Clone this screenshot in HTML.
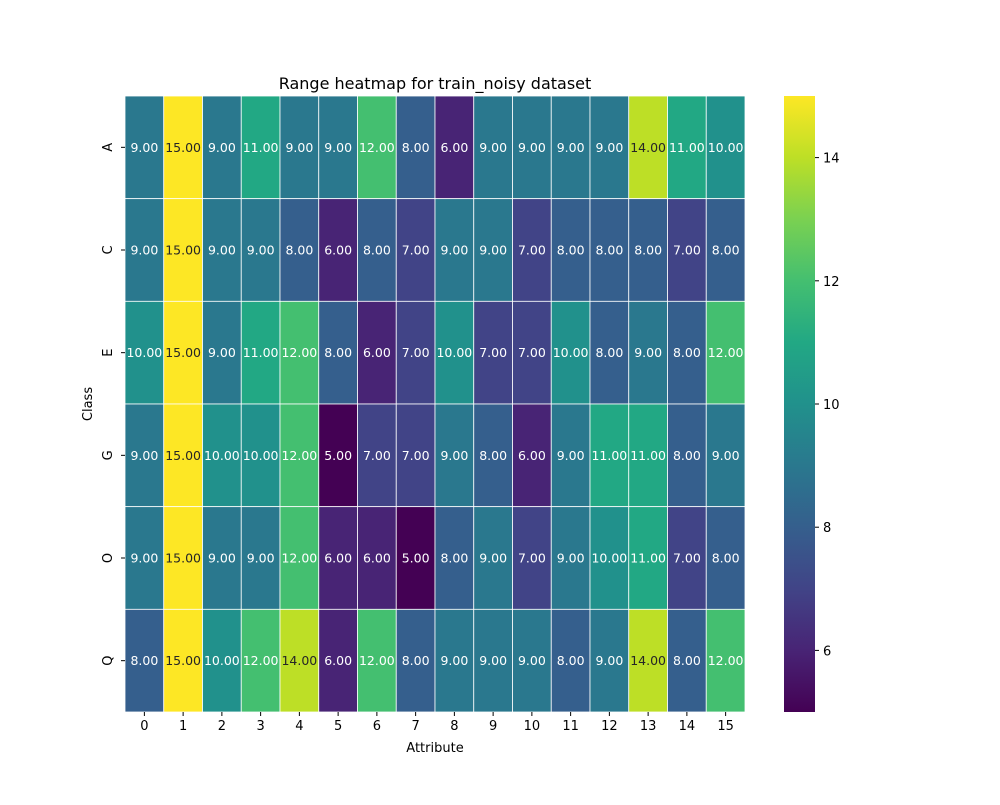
<!DOCTYPE html>
<html><head><meta charset="utf-8"><style>
body{margin:0;background:#fff;}
svg text{font-family:"DejaVu Sans","Liberation Sans",sans-serif;}
</style></head><body>
<svg id="chart" width="1000" height="800" xmlns="http://www.w3.org/2000/svg">
<rect width="1000" height="800" fill="#fff"/>
<text x="435" y="89" font-size="16" text-anchor="middle" fill="#000">Range heatmap for train_noisy dataset</text>
<g id="cells"></g>
<g id="xticks"></g>
<g id="yticks"></g>
<text x="435" y="752" font-size="13" text-anchor="middle">Attribute</text>
<text x="92" y="404" font-size="13" text-anchor="middle" transform="rotate(-90 92 404)">Class</text>
<defs><linearGradient id="vir" x1="0" y1="1" x2="0" y2="0"></linearGradient></defs>
<rect x="784" y="96" width="31" height="616" fill="url(#vir)"/>
<g id="cbticks"></g>
</svg>
<script>
const categories = ["0","1","2","3","4","5","6","7","8","9","10","11","12","13","14","15"];
const classes = ["A","C","E","G","O","Q"];
const rowA = [9,15,9,11,9,9,12,8,6,9,9,9,9,14,11,10];
const rowC = [9,15,9,9,8,6,8,7,9,9,7,8,8,8,7,8];
const rowE = [10,15,9,11,12,8,6,7,10,7,7,10,8,9,8,12];
const rowG = [9,15,10,10,12,5,7,7,9,8,6,9,11,11,8,9];
const rowO = [9,15,9,9,12,6,6,5,8,9,7,9,10,11,7,8];
const rowQ = [8,15,10,12,14,6,12,8,9,9,9,8,9,14,8,12];
const cbTicks = [6,8,10,12,14];
const vmin = 5, vmax = 15;
const rows = [rowA,rowC,rowE,rowG,rowO,rowQ];

const NS="http://www.w3.org/2000/svg";
const X0=125,X1=745,Y0=96,Y1=712;
const cw=(X1-X0)/categories.length, ch=(Y1-Y0)/classes.length;
const xs=i=>X0+i*cw, ys=j=>Y0+j*ch;
const cy=v=>Y1-(v-vmin)/(vmax-vmin)*(Y1-Y0);
const stops=["#440154","#482475","#414487","#355f8d","#2a788e","#21918c","#22a884","#44bf70","#7ad151","#bddf26","#fde725"];
function hex(h){return [1,3,5].map(i=>parseInt(h.substr(i,2),16));}
function vir(t){t=Math.max(0,Math.min(1,t));const p=t*10,i=Math.min(9,Math.floor(p)),f=p-i;const a=hex(stops[i]),b=hex(stops[i+1]);
return a.map((c,k)=>Math.round(c+(b[k]-c)*f));}
function lin(c){c/=255;return c<=0.03928?c/12.92:Math.pow((c+0.055)/1.055,2.4);}
function el(tag,attrs,parent){const e=document.createElementNS(NS,tag);for(const k in attrs)e.setAttribute(k,attrs[k]);parent.appendChild(e);return e;}
const cells=document.getElementById('cells');
rows.forEach((row,j)=>{row.forEach((v,i)=>{
 const c=vir((v-vmin)/(vmax-vmin));
 const r=el('rect',{x:xs(i),y:ys(j),width:cw,height:ch,fill:`rgb(${c.join(',')})`,stroke:'#fff','stroke-width':0.8},cells);
 
 
 const lum=0.2126*lin(c[0])+0.7152*lin(c[1])+0.0722*lin(c[2]);
 const t=el('text',{x:xs(i)+cw/2,y:ys(j)+ch/2+4.5,'font-size':12.5,'text-anchor':'middle',fill:lum>0.408?'#262626':'#fff'},cells);
 t.textContent=v.toFixed(2);
 
 
});});
const xt=document.getElementById('xticks');
categories.forEach((c,i)=>{const x=xs(i)+cw/2;
 const l=el('line',{x1:x,x2:x,y1:Y1,y2:Y1+4,stroke:'#000'},xt);
 
 
 const t=el('text',{x:x,y:Y1+18,'font-size':13,'text-anchor':'middle'},xt);t.textContent=c;
 
 });
const yt=document.getElementById('yticks');
classes.forEach((c,j)=>{const y=ys(j)+ch/2;
 const l=el('line',{x1:X0-4,x2:X0,y1:y,y2:y,stroke:'#000'},yt);
 
 
 const t=el('text',{x:112,y:y,'font-size':13,'text-anchor':'middle',transform:`rotate(-90 112 ${y})`},yt);t.textContent=c;
 
 });
const g=document.getElementById('vir');
stops.forEach((s,i)=>el('stop',{offset:i/10,'stop-color':s},g));
const cb=document.getElementById('cbticks');
cbTicks.forEach(v=>{const y=cy(v);
 const l=el('line',{x1:815,x2:819,y1:y,y2:y,stroke:'#000'},cb);
 
 
 const t=el('text',{x:823,y:y+5,'font-size':13},cb);t.textContent=v;
 
 });
</script>
</body></html>
